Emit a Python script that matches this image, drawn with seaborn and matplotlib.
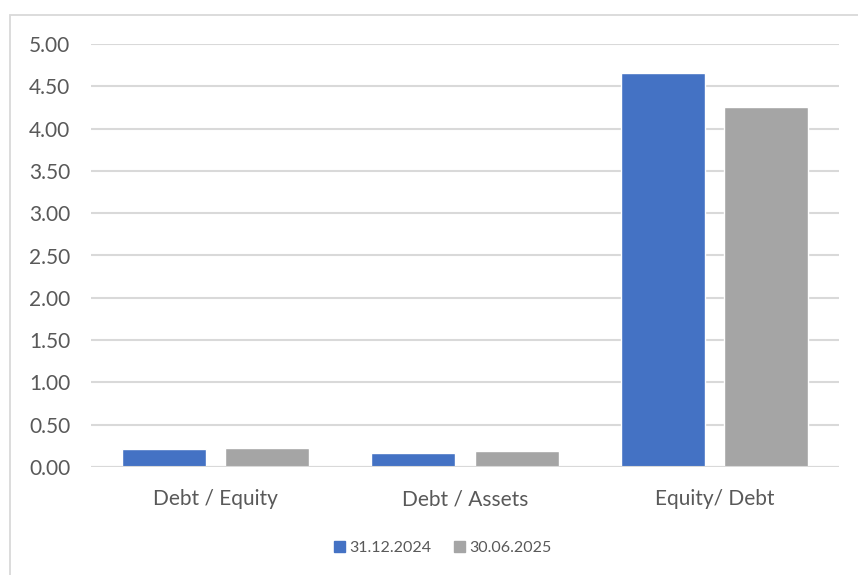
import pandas as pd
import seaborn as sns
import matplotlib.pyplot as plt
from matplotlib.patches import Rectangle

# ratios
categories = ["Debt / Equity", "Debt / Assets", "Equity/ Debt"]
dates = ["31.12.2024", "30.06.2025"]
vals_2024 = [0.21, 0.17, 4.66]
vals_2025 = [0.23, 0.19, 4.25]
yticks = [0, 0.5, 1.0, 1.5, 2.0, 2.5, 3.0, 3.5, 4.0, 4.5, 5.0]

df = pd.DataFrame({
    "ratio": categories * 2,
    "date": [dates[0]] * 3 + [dates[1]] * 3,
    "value": vals_2024 + vals_2025,
})

sns.set_theme(style="white")
plt.rcParams['font.family'] = ['Lato', 'DejaVu Sans']

text_col = "#595959"
grid_col = "#d9d9d9"

fig = plt.figure(figsize=(8.58, 5.75), dpi=100)
ax = fig.add_axes([91 / 858, 1 - 467 / 575, 748 / 858, 423 / 575])

sns.barplot(data=df, x="ratio", y="value", hue="date", order=categories,
            hue_order=dates, palette=["#4472C4", "#A5A5A5"],
            width=0.83, gap=0.19, saturation=1, ax=ax, legend=False, zorder=3)

ax.set_ylim(0, 5)
ax.set_yticks(yticks)
ax.set_yticklabels([f"{t:.2f}" for t in yticks])
ax.set_xlim(-0.5, 2.5)
ax.set_xlabel("")
ax.set_ylabel("")
ax.yaxis.grid(True, color=grid_col, linewidth=1.5, zorder=0)
ax.set_axisbelow(True)
for s in ax.spines.values():
    s.set_visible(False)
ax.axhline(0, color=grid_col, linewidth=1.5, zorder=4)
ax.tick_params(axis="y", length=0, pad=15, labelsize=15, labelcolor=text_col)
ax.tick_params(axis="x", length=0, pad=16, labelsize=15, labelcolor=text_col)

# legend
handles = [Rectangle((0, 0), 1, 1, color=c) for c in ["#4472C4", "#A5A5A5"]]
fig.legend(handles, dates, loc="center", bbox_to_anchor=(443 / 858, 1 - 548 / 575),
           ncol=2, frameon=False, fontsize=11.5, labelcolor=text_col,
           handlelength=0.65, handleheight=0.65, handletextpad=0.3, columnspacing=1.4)

# chart frame
fig.patches.append(Rectangle((10 / 858, -0.1), 1.0, 1 - 15 / 575 + 0.1,
                             transform=fig.transFigure, fill=False,
                             edgecolor=grid_col, linewidth=1.3))

fig.savefig("out.png", dpi=100)
